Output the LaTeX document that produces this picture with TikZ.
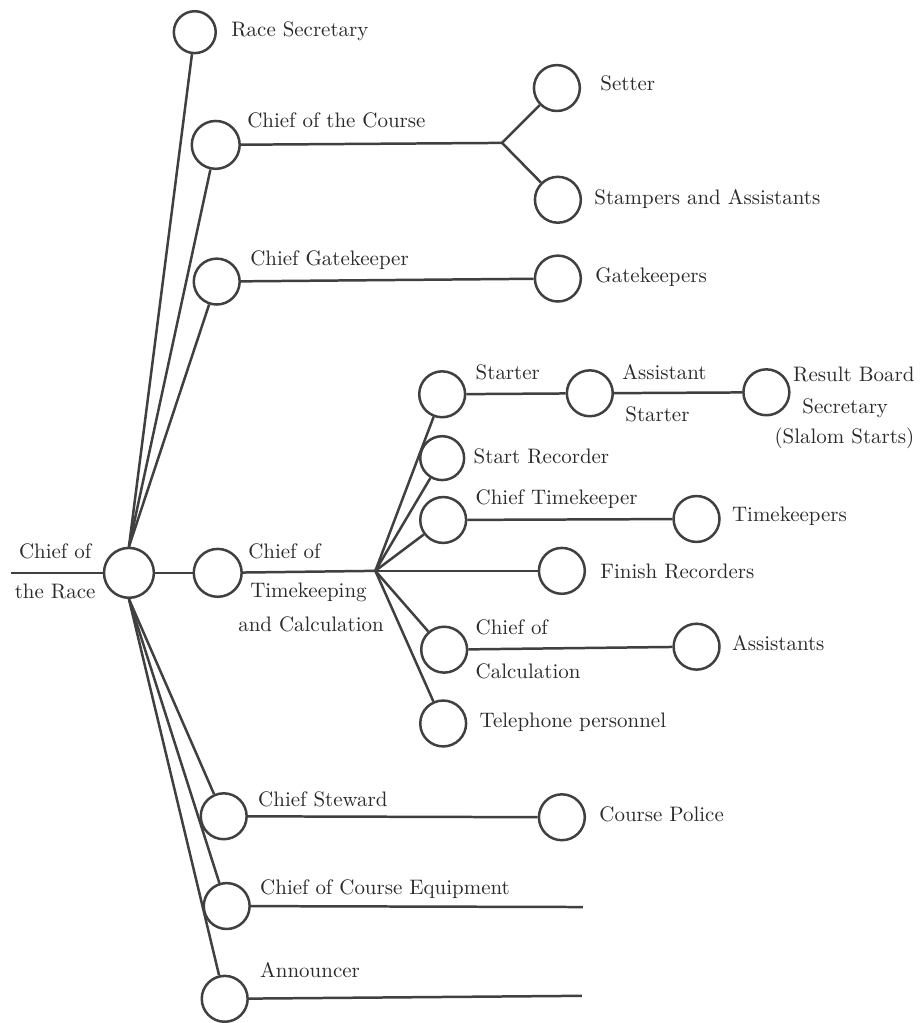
\documentclass[tikz,border=0pt]{standalone}
\begin{document}
\begin{tikzpicture}[x=1pt,y=-1pt,
  every path/.style={line width=2.5pt, draw=ink},
  bub/.style={circle, draw=ink, line width=2.5pt, inner sep=0pt, minimum size=46pt},
  lab/.style={anchor=west, inner sep=0pt, text=txt, font=\fontsize{10}{12}\selectfont, scale=2.1, transform shape, text height=6.8pt, text depth=2pt},
  labe/.style={lab, anchor=east},
  labc/.style={lab, anchor=center}]
\definecolor{ink}{HTML}{404040}
\definecolor{txt}{HTML}{2A2A2A}
\useasboundingbox (0,0) rectangle (921,1023);
\fill[white] (0,0) rectangle (921,1023);

% circles
\node[bub, minimum size=50pt] (race) at (128,573) {};
\node[bub, minimum size=42pt] (sec) at (194,31) {};
\node[bub, minimum size=48pt] (course) at (215,144) {};
\node[bub] (setter) at (557,87) {};
\node[bub] (stamp) at (558,199) {};
\node[bub] (gatek) at (216,281) {};
\node[bub] (gates) at (558,278) {};
\node[bub, minimum size=48pt] (timing) at (217,573) {};
\node[bub] (starter) at (442,394) {};
\node[bub] (asst) at (590,393) {};
\node[bub] (result) at (767,392) {};
\node[bub, minimum size=44pt] (startrec) at (442,458) {};
\node[bub] (chieftk) at (443,520) {};
\node[bub] (tks) at (697,519) {};
\node[bub] (finish) at (562,571) {};
\node[bub] (chiefcalc) at (444,650) {};
\node[bub] (assts) at (697,647) {};
\node[bub] (phone) at (443,724) {};
\node[bub] (steward) at (223,817) {};
\node[bub] (police) at (562,818) {};
\node[bub] (equip) at (226,907) {};
\node[bub] (announcer) at (224,1000) {};

% free points
\coordinate (leftend) at (10,573);
\coordinate (branch) at (502,142);
\coordinate (hub) at (375,571);
\coordinate (equipend) at (583,908);
\coordinate (annend) at (582,997);

% connectors
\draw (leftend) -- (race);
\draw (race.north) -- (sec);
\draw (race.north) -- (course);
\draw (race.north) -- (gatek);
\draw (race) -- (timing);
\draw (race.south) -- (steward);
\draw (race.south) -- (equip);
\draw (race.south) -- (announcer);
\draw (course) -- (branch);
\draw (branch) -- (setter);
\draw (branch) -- (stamp);
\draw (gatek) -- (gates);
\draw (timing) -- (hub);
\draw (hub) -- (starter);
\draw (hub) -- (startrec);
\draw (hub) -- (chieftk);
\draw (hub) -- (finish);
\draw (hub) -- (chiefcalc);
\draw (hub) -- (phone);
\draw (starter) -- (asst);
\draw (asst) -- (result);
\draw (chieftk) -- (tks);
\draw (chiefcalc) -- (assts);
\draw (steward) -- (police);
\draw (equip) -- (equipend);
\draw (announcer) -- (annend);

% labels
\node[lab] (lsec) at (228,30) {Race Secretary};
\node[lab] (lcourse) at (244,122) {Chief of the Course};
\node[lab] (lsetter) at (598,84) {Setter};
\node[lab] (lstamp) at (592,199) {Stampers and Assistants};
\node[lab] (lgatek) at (247,260) {Chief Gatekeeper};
\node[lab] (lgates) at (593,277) {Gatekeepers};
\node[labc] (lrace1) at (54,554) {Chief of};
\node[labc] (lrace2) at (54,594) {the Race};
\node[lab] (ltim1) at (245,554) {Chief of};
\node[lab] (ltim2) at (247,593) {Timekeeping};
\node[lab] (ltim3) at (235,627) {and Calculation};
\node[lab] (lstarter) at (473,374) {Starter};
\node[lab] (lasst1) at (620,374) {Assistant};
\node[lab] (lasst2) at (623,416) {Starter};
\node[labe] (lres1) at (918,376) {Result Board};
\node[labc] (lres2) at (846,408) {Secretary};
\node[labe] (lres3) at (918,438) {(Slalom Starts)};
\node[lab] (lstartrec) at (471,458) {Start Recorder};
\node[lab] (lchieftk) at (473,499) {Chief Timekeeper};
\node[lab] (ltks) at (730,516) {Timekeepers};
\node[lab] (lfinish) at (598,574) {Finish Recorders};
\node[lab] (lcalc1) at (473,630) {Chief of};
\node[lab] (lcalc2) at (473,674) {Calculation};
\node[lab] (lassts) at (730,646) {Assistants};
\node[lab] (lphone) at (477,723) {Telephone personnel};
\node[lab] (lsteward) at (255,802) {Chief Steward};
\node[lab] (lpolice) at (597,817) {Course Police};
\node[lab] (lequip) at (257,890) {Chief of Course Equipment};
\node[lab] (lann) at (257,974) {Announcer};
\end{tikzpicture}
\end{document}
